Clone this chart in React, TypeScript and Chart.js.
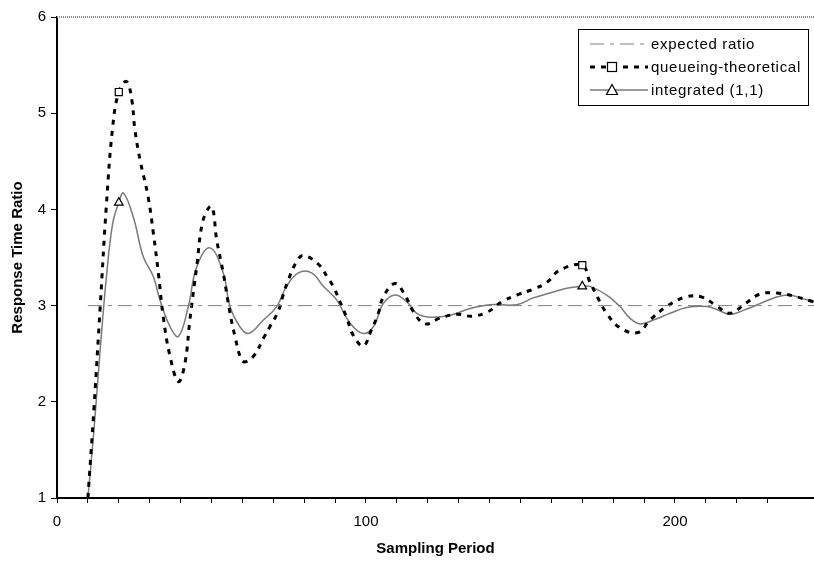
import React, { useEffect, useRef } from "react";
import { Chart, registerables } from "chart.js";

Chart.register(...registerables);

// ---- data ----
const seriesNames = ["expected ratio", "queueing-theoretical", "integrated (1,1)"];

const expectedX = [10, 245];
const expectedY = [3, 3];

const queueX = [10, 12, 14, 16, 18, 20, 22.5, 24.2, 25.2, 26.9, 29.5, 31.2, 32.8, 34.4, 36.6, 39.3, 41.4, 43, 45.2, 47.3, 50, 51.7, 53.8, 56, 57.6, 59.8, 61.4, 64, 66.8, 68.9, 71.6, 73.2, 74.9, 77.6, 79.7, 84.6, 87.8, 89.4, 91.6, 93.8, 95.9, 99.1, 101.8, 104, 105.6, 109.4, 112.6, 115.3, 119.1, 123.9, 129.4, 134.2, 139.1, 144, 148.8, 154, 158.5, 162.8, 170, 172.3, 174.9, 177.9, 182.2, 188.1, 191.9, 197.3, 203.5, 208.6, 212.9, 217.8, 222.7, 227.5, 233.1, 238.3, 243.7, 247];
const queueY = [1.0, 1.95, 3.0, 4.05, 4.85, 5.22, 5.33, 5.14, 4.83, 4.51, 4.13, 3.75, 3.34, 2.88, 2.47, 2.21, 2.40, 2.85, 3.40, 3.89, 4.03, 3.68, 3.34, 2.92, 2.68, 2.43, 2.42, 2.49, 2.66, 2.78, 2.94, 3.11, 3.27, 3.46, 3.52, 3.43, 3.28, 3.20, 3.04, 2.87, 2.69, 2.58, 2.75, 2.92, 3.09, 3.23, 3.11, 2.94, 2.81, 2.87, 2.91, 2.89, 2.93, 3.04, 3.11, 3.17, 3.24, 3.37, 3.42, 3.26, 3.09, 2.92, 2.77, 2.72, 2.85, 2.99, 3.09, 3.09, 3.01, 2.92, 3.02, 3.12, 3.13, 3.10, 3.05, 3.02];

const integX = [10, 12, 14, 16, 18, 20, 21.5, 24.7, 27.9, 31.2, 33.3, 36.6, 39.3, 42.5, 45.2, 49.5, 53.8, 56, 59.2, 62, 66.8, 71.1, 74.3, 78.1, 82.4, 86.2, 90.5, 94.8, 99.1, 102.4, 105.6, 109.4, 113.2, 116.4, 120.7, 127.2, 133.7, 140.1, 148.8, 154.1, 159.5, 165, 170, 172.5, 177.9, 182.2, 185.4, 188.7, 193, 198.4, 203.8, 210.3, 213.5, 217.8, 222.1, 227.5, 232.9, 237.2, 241.5, 245];
const integY = [1.0, 1.72, 2.55, 3.3, 3.85, 4.07, 4.17, 3.92, 3.51, 3.30, 3.06, 2.78, 2.68, 2.99, 3.40, 3.60, 3.34, 2.99, 2.78, 2.71, 2.85, 2.99, 3.20, 3.34, 3.34, 3.20, 3.06, 2.82, 2.71, 2.78, 3.02, 3.11, 3.04, 2.92, 2.88, 2.90, 2.97, 3.01, 3.01, 3.08, 3.13, 3.18, 3.20, 3.20, 3.11, 2.99, 2.87, 2.81, 2.85, 2.92, 2.98, 2.99, 2.96, 2.91, 2.95, 3.02, 3.09, 3.11, 3.07, 3.04];

const markerX = [20, 170];
const xLabelValues = [0, 100, 200];
const xTitle = "Sampling Period";
const yTitle = "Response Time Ratio";

const toPts = (xs: number[], ys: number[]) => xs.map((x, i) => ({ x, y: ys[i] }));

const FONT = "'Liberation Sans', Arial, sans-serif";

const frameAndLegend = {
  id: "frameAndLegend",
  beforeDatasetsDraw(chart: any) {
    const { ctx, chartArea } = chart;
    ctx.save();
    ctx.strokeStyle = "#8a8a8a";
    ctx.lineWidth = 2;
    ctx.setLineDash([1, 1]);
    ctx.beginPath();
    ctx.moveTo(chartArea.left, chartArea.top);
    ctx.lineTo(chartArea.right, chartArea.top);
    ctx.stroke();
    ctx.restore();
  },
  afterDraw(chart: any) {
    const { ctx, chartArea } = chart;
    const bx = chartArea.right - 236;
    const by = chartArea.top + 12;
    const bw = 230;
    const bh = 76;
    ctx.save();
    ctx.fillStyle = "#fff";
    ctx.fillRect(bx, by, bw, bh);
    ctx.strokeStyle = "#000";
    ctx.lineWidth = 1;
    ctx.setLineDash([]);
    ctx.strokeRect(bx + 0.5, by + 0.5, bw, bh);
    const rowH = 23;
    const x0 = bx + 12;
    const x1 = bx + 70;
    const mx = bx + 34;
    chart.data.datasets.forEach((ds: any, i: number) => {
      const y = by + 15 + i * rowH;
      ctx.save();
      ctx.strokeStyle = ds.borderColor;
      ctx.lineWidth = ds.borderWidth;
      ctx.setLineDash(ds.borderDash || []);
      ctx.beginPath();
      ctx.moveTo(x0, y);
      ctx.lineTo(x1, y);
      ctx.stroke();
      ctx.restore();
      if (ds.legendMarker) {
        ctx.save();
        ctx.setLineDash([]);
        ctx.fillStyle = "#fff";
        ctx.strokeStyle = "#000";
        ctx.lineWidth = 1.2;
        if (ds.legendMarker === "rect") {
          ctx.fillRect(mx - 4.5, y - 4.5, 9, 9);
          ctx.strokeRect(mx - 4.5, y - 4.5, 9, 9);
        } else {
          ctx.beginPath();
          ctx.moveTo(mx, y - 5.5);
          ctx.lineTo(mx + 5.5, y + 4.5);
          ctx.lineTo(mx - 5.5, y + 4.5);
          ctx.closePath();
          ctx.fill();
          ctx.stroke();
        }
        ctx.restore();
      }
      ctx.save();
      ctx.fillStyle = "#000";
      ctx.font = `15px ${FONT}`;
      try {
        (ctx as any).letterSpacing = "0.7px";
      } catch (e) {}
      ctx.textBaseline = "middle";
      ctx.textAlign = "left";
      ctx.fillText(ds.label, x1 + 3, y + 1);
      ctx.restore();
    });
    ctx.restore();
  },
};

export default function App() {
  const ref = useRef<HTMLCanvasElement | null>(null);
  useEffect(() => {
    document.body.style.margin = "0";
    const canvas = ref.current;
    if (!canvas) return;
    const markerRadius = (ctx: any) => (ctx.raw && markerX.includes(ctx.raw.x) ? 5 : 0);
    const chart = new Chart(canvas, {
      type: "line",
      data: {
        datasets: [
          {
            label: seriesNames[0],
            data: toPts(expectedX, expectedY),
            borderColor: "#808080",
            borderWidth: 1,
            borderDash: [14, 6, 4, 6],
            pointRadius: 0,
            tension: 0,
          },
          {
            label: seriesNames[1],
            data: toPts(queueX, queueY),
            borderColor: "#000",
            borderWidth: 3,
            borderDash: [5, 6],
            tension: 0.4,
            pointStyle: "rect",
            pointRadius: markerRadius,
            pointBackgroundColor: "#fff",
            pointBorderColor: "#000",
            pointBorderWidth: 1.2,
            legendMarker: "rect",
          } as any,
          {
            label: seriesNames[2],
            data: toPts(integX, integY),
            borderColor: "#7a7a7a",
            borderWidth: 1.5,
            tension: 0.4,
            pointStyle: "triangle",
            pointRadius: markerRadius,
            pointBackgroundColor: "#fff",
            pointBorderColor: "#000",
            pointBorderWidth: 1.2,
            legendMarker: "triangle",
          } as any,
        ],
      },
      options: {
        responsive: false,
        animation: false,
        events: [],
        layout: { padding: { top: 17, right: 0, left: 0, bottom: 0 } },
        plugins: { legend: { display: false }, tooltip: { enabled: false } },
        scales: {
          x: {
            type: "linear",
            min: 0,
            max: 245,
            afterFit: (s: any) => {
              s.height = 69;
            },
            afterBuildTicks: (s: any) => {
              s.ticks = s.ticks.filter((t: any) => Math.abs(t.value % 10) < 1e-6);
            },
            ticks: {
              stepSize: 10,
              autoSkip: false,
              maxRotation: 0,
              padding: 10,
              color: "#000",
              font: { family: FONT, size: 15 },
              callback: (v: any) => (xLabelValues.includes(Number(v)) ? String(v) : ""),
            },
            grid: {
              display: true,
              drawOnChartArea: false,
              drawTicks: true,
              tickLength: 5,
              color: "#000",
              lineWidth: 1,
            },
            border: { display: true, color: "#000", width: 2 },
            title: {
              display: true,
              text: xTitle,
              color: "#000",
              font: { family: FONT, size: 15, weight: "bold" },
              padding: { top: 0, bottom: 9 },
            },
          },
          y: {
            type: "linear",
            min: 1,
            max: 6,
            afterFit: (s: any) => {
              s.width = 57;
            },
            ticks: {
              stepSize: 1,
              padding: 5,
              color: "#000",
              font: { family: FONT, size: 15 },
            },
            grid: {
              display: true,
              drawOnChartArea: false,
              drawTicks: true,
              tickLength: 6,
              color: "#000",
              lineWidth: 1,
            },
            border: { display: true, color: "#000", width: 2 },
            title: {
              display: true,
              text: yTitle,
              color: "#000",
              font: { family: FONT, size: 15, weight: "bold" },
              padding: { top: 9, bottom: 0 },
            },
          },
        },
      },
      plugins: [frameAndLegend],
    });
    return () => chart.destroy();
  }, []);
  return (
    <div style={{ width: 814, height: 567 }}>
      <canvas ref={ref} width={814} height={567} />
    </div>
  );
}
